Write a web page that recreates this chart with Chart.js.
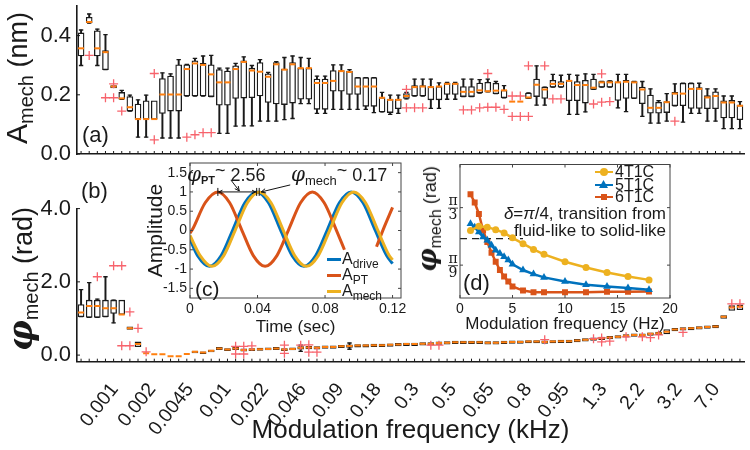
<!DOCTYPE html>
<html>
<head>
<meta charset="utf-8">
<script src="https://cdn.jsdelivr.net/npm/chart.js@4.4.1/dist/chart.umd.min.js"></script>
<style>
  body { margin: 0; background: #fff; }
  #fig { position: relative; width: 750px; height: 450px; overflow: hidden; background: #fff;
         font-family: "Liberation Sans", Arial, sans-serif; color: #1a1a1a; }
  #fig canvas { position: absolute; }
  .t { position: absolute; white-space: nowrap; line-height: 1; }
  .v { transform: translate(-50%, -50%) rotate(-90deg); }
  .phi { font-family: "DejaVu Serif", serif; font-style: italic; }
  sub { vertical-align: baseline; position: relative; top: 0.3em; }
  .sw { position: absolute; height: 3px; }
  .mk { position: absolute; }
</style>
</head>
<body>
<div id="fig">
  <canvas id="ampChart" width="750" height="160" style="left:0;top:0"></canvas>
  <canvas id="phiChart" width="750" height="290" style="left:0;top:160px"></canvas>
  <canvas id="waveChart" width="270" height="180" style="left:140px;top:160px"></canvas>
  <canvas id="transChart" width="270" height="180" style="left:410px;top:160px"></canvas>

  <!-- axis titles with subscripts -->
  <div class="t v" style="left:17px;top:78px;font-size:30px">A<sub style="font-size:20px">mech</sub><span style="font-size:27px"> (nm)</span></div>
  <div class="t v" style="left:20px;top:279px;font-size:27px"><span class="phi" style="font-weight:bold;font-size:34px">φ</span><sub style="font-size:20px">mech</sub> (rad)</div>
  <div class="t v" style="left:427px;top:219px;font-size:18px"><span class="phi" style="font-weight:bold;font-size:26px">φ</span><sub style="font-size:16px">mech</sub> (rad)</div>

  <!-- panel letters -->
  <div class="t" style="left:82px;top:124px;font-size:22px">(a)</div>
  <div class="t" style="left:81px;top:180px;font-size:22px">(b)</div>
  <div class="t" style="left:195px;top:278px;font-size:21px">(c)</div>
  <div class="t" style="left:463px;top:272px;font-size:22px">(d)</div>

  <!-- inset (c) phase notes -->
  <div class="t" style="left:187px;top:164px;font-size:18px"><span class="phi" style="font-size:20px">φ</span><sub style="font-size:11px;font-weight:bold">PT</sub><span style="position:relative;top:-5px">~</span> 2.56</div>
  <div class="t" style="left:291px;top:164px;font-size:18px"><span class="phi" style="font-size:20px">φ</span><sub style="font-size:13px">mech</sub><span style="position:relative;top:-5px">~</span> 0.17</div>

  <!-- inset (c) legend -->
  <div class="sw" style="left:327px;top:258px;width:14px;background:#0072BD"></div>
  <div class="t" style="left:342px;top:251px;font-size:16px">A<sub style="font-size:12px">drive</sub></div>
  <div class="sw" style="left:327px;top:274px;width:14px;background:#D95319"></div>
  <div class="t" style="left:342px;top:267px;font-size:16px">A<sub style="font-size:12px">PT</sub></div>
  <div class="sw" style="left:327px;top:290px;width:14px;background:#EDB120"></div>
  <div class="t" style="left:342px;top:283px;font-size:16px">A<sub style="font-size:12px">mech</sub></div>

  <!-- inset (d) legend -->
  <div class="sw" style="left:595px;top:171px;width:18px;height:2px;background:#EDB120"></div>
  <div class="mk" style="left:600px;top:168px;width:8px;height:8px;border-radius:50%;background:#EDB120"></div>
  <div class="t" style="left:615px;top:164px;font-size:16px">4T1C</div>
  <div class="sw" style="left:595px;top:184px;width:18px;height:2px;background:#0072BD"></div>
  <div class="mk" style="left:599px;top:180px;width:9px;height:8px;background:#0072BD;clip-path:polygon(50% 0,100% 100%,0 100%)"></div>
  <div class="t" style="left:615px;top:177px;font-size:16px">5T1C</div>
  <div class="sw" style="left:595px;top:196px;width:18px;height:2px;background:#D95319"></div>
  <div class="mk" style="left:601px;top:194px;width:6px;height:6px;background:#D95319"></div>
  <div class="t" style="left:615px;top:189px;font-size:16px">6T1C</div>
  <div class="t" style="right:84px;top:205px;font-size:17px;line-height:17px;text-align:right"><i>δ</i>=<i>π</i>/4, transition from<br>fluid-like to solid-like</div>
</div>

<script>
const _ = null;

// shared x categories: 82 modulation frequencies, labelled every fifth box
const tickLabels = ['0.001', '0.002', '0.0045', '0.01', '0.022', '0.046', '0.09', '0.18', '0.3',
                    '0.5', '0.65', '0.8', '0.95', '1.3', '2.2', '3.2', '7.0'];
const categories = Array.from({ length: 82 }, (_v, i) => 'f' + (i + 1));

// (a) A_mech box plots (nm)
const ampTicks = [0, 0.2, 0.4];
const ampWhiskLo = [0.299,0.442,0.299,0.285,_,0.185,0.145,0.057,0.057,_,
  0.054,0.054,0.054,0.196,0.196,0.196,0.194,0.070,0.070,0.094,
  0.095,0.095,0.111,0.111,0.111,0.116,0.120,0.170,0.170,0.137,
  0.137,0.151,0.151,0.151,0.151,0.151,0.140,0.142,0.134,0.137,
  0.186,0.196,0.196,0.154,0.154,0.185,0.185,0.194,0.194,0.206,
  0.210,0.204,0.190,_,_,0.188,0.165,0.165,0.226,0.226,
  0.134,0.134,0.142,0.218,0.226,0.226,0.156,0.143,0.188,0.127,
  0.104,0.104,0.111,0.163,0.108,0.137,0.137,0.111,0.111,0.086,
  0.086,0.086];
const ampQ1 = [0.331,0.444,0.331,0.285,0.223,0.185,0.145,0.118,0.118,0.118,
  0.137,0.145,0.145,0.196,0.196,0.196,0.194,0.165,0.165,0.188,
  0.189,0.190,0.196,0.174,0.169,0.167,0.172,0.185,0.185,0.151,
  0.151,0.212,0.212,0.201,0.201,0.161,0.161,0.142,0.140,0.153,
  0.188,0.196,0.196,0.183,0.183,0.201,0.201,0.194,0.194,0.206,
  0.210,0.204,0.190,_,_,0.188,0.194,0.188,0.226,0.226,
  0.180,0.180,0.172,0.218,0.226,0.226,0.181,0.188,0.188,0.170,
  0.138,0.138,0.140,0.163,0.163,0.154,0.154,0.153,0.153,0.122,
  0.122,0.116];
const ampMed = [0.357,0.446,0.357,0.344,0.228,0.188,0.158,0.118,0.118,0.118,
  0.201,0.201,0.201,0.287,0.306,0.301,0.269,0.242,0.242,0.287,
  0.311,0.282,0.278,0.261,0.303,0.285,0.303,0.290,0.290,0.240,
  0.240,0.247,0.280,0.277,0.228,0.228,0.228,0.190,0.183,0.183,
  0.196,0.226,0.228,0.226,0.228,0.237,0.237,0.210,0.210,0.215,
  0.212,0.214,0.215,0.177,0.177,0.191,0.234,0.218,0.237,0.237,
  0.247,0.233,0.233,0.224,0.242,0.242,0.242,0.244,0.242,0.218,
  0.156,0.156,0.175,0.204,0.204,0.220,0.220,0.191,0.196,0.174,
  0.174,0.163];
const ampQ3 = [0.409,0.462,0.416,0.349,0.231,0.208,0.194,0.169,0.180,0.180,
  0.255,0.263,0.301,0.301,0.315,0.306,0.301,0.285,0.280,0.298,
  0.315,0.290,0.309,0.271,0.309,0.287,0.309,0.290,0.290,0.253,
  0.253,0.282,0.282,0.280,0.258,0.258,0.258,0.191,0.185,0.185,
  0.204,0.231,0.231,0.228,0.228,0.239,0.239,0.228,0.228,0.240,
  0.242,0.239,0.215,_,_,0.206,0.253,0.226,0.249,0.245,
  0.249,0.245,0.249,0.253,0.245,0.247,0.244,0.249,0.245,0.226,
  0.199,0.175,0.177,0.208,0.239,0.239,0.224,0.197,0.210,0.180,
  0.181,0.165];
const ampWhiskHi = [0.419,0.473,0.422,0.403,_,0.215,0.199,0.183,0.199,_,
  0.274,0.271,0.319,0.303,0.323,0.331,0.333,0.290,0.290,0.306,
  0.328,0.299,0.319,0.276,0.312,0.326,0.331,0.326,0.323,0.263,
  0.263,0.301,0.301,0.285,0.258,0.258,0.258,0.208,0.199,0.199,
  0.208,0.253,0.253,0.253,0.240,0.242,0.242,0.253,0.253,0.251,
  0.253,0.245,0.231,_,_,0.206,0.298,0.226,0.269,0.266,
  0.269,0.266,0.271,0.269,0.245,0.247,0.269,0.269,0.245,0.245,
  0.220,0.180,0.204,0.237,0.239,0.239,0.239,0.220,0.220,0.196,
  0.196,0.177];
const ampOutA = [_,0.333,_,0.19,0.237,0.145,_,_,_,0.272,
  _,_,_,0.057,0.065,0.072,0.072,_,_,_,
  _,_,_,_,_,_,_,_,_,_,
  _,_,_,_,_,_,_,_,_,_,
  0.218,0.156,0.156,_,_,_,_,0.149,0.149,0.156,
  0.272,0.158,0.151,0.196,0.196,0.298,_,0.298,0.186,0.186,
  _,_,_,0.169,0.271,0.177,_,_,_,_,
  _,_,_,0.111,_,_,_,_,_,_,
  _,_];
const ampOutB = [_,_,_,_,0.19,_,_,_,_,0.048,
  _,_,_,_,_,_,_,_,_,_,
  _,_,_,_,_,_,_,_,_,_,
  _,_,_,_,_,_,_,_,_,_,
  0.156,_,_,_,_,_,_,_,_,_,
  0.158,_,_,0.127,0.127,0.127,_,_,_,_,
  _,_,_,_,0.175,_,_,_,_,_,
  _,_,_,_,_,_,_,_,_,_,
  _,_];

// (b) phi_mech box plots (rad)
const phiTicks = [0, 2, 4];
const phiWhiskLo = [1.05,1.03,1.03,1.05,0.88,_,_,_,_,_,
  _,_,_,_,_,_,_,_,_,_,
  _,_,_,_,_,_,_,0.10,_,_,
  _,_,_,0.16,_,_,_,_,_,_,
  _,_,_,_,_,_,_,_,_,_,
  _,_,_,_,_,_,_,_,_,_,
  _,_,_,_,_,_,_,_,_,_,
  _,_,_,_,_,_,_,_,_,_,
  _,_];
const phiQ1 = [1.05,1.03,1.03,1.05,1.14,1.11,0.70,0.23,_,_,
  _,_,_,_,0.06,0.04,0.09,0.15,0.12,0.15,
  0.11,0.12,0.13,0.14,0.15,0.12,0.14,0.16,0.17,0.16,
  0.18,0.18,0.20,0.21,0.22,0.22,0.23,0.23,0.24,0.25,
  0.26,0.26,0.27,0.27,0.29,0.30,0.31,0.31,0.31,0.31,
  0.30,0.30,0.31,0.32,0.32,0.33,0.33,0.32,0.33,0.34,
  0.34,0.36,0.38,0.40,0.42,0.44,0.46,0.49,0.51,0.51,
  0.54,0.56,0.58,0.66,0.68,0.69,0.71,0.73,0.74,1.00,
  1.22,1.24];
const phiMed = [1.16,1.34,1.34,1.28,1.28,1.11,0.73,0.30,0.05,0.02,
  0.02,-0.03,-0.03,0.03,0.09,0.07,0.12,0.18,0.15,0.18,
  0.14,0.15,0.16,0.17,0.18,0.15,0.17,0.20,0.21,0.20,
  0.22,0.22,0.24,0.25,0.26,0.26,0.27,0.27,0.28,0.29,
  0.30,0.30,0.31,0.31,0.33,0.34,0.35,0.35,0.35,0.35,
  0.34,0.34,0.35,0.36,0.36,0.37,0.37,0.36,0.37,0.38,
  0.38,0.40,0.42,0.44,0.46,0.48,0.50,0.53,0.55,0.55,
  0.58,0.60,0.64,0.70,0.72,0.73,0.75,0.77,0.78,1.05,
  1.30,1.32];
const phiQ3 = [1.38,1.50,1.50,1.50,1.50,1.50,0.77,0.36,_,_,
  _,_,_,_,0.11,0.09,0.14,0.21,0.18,0.21,
  0.17,0.18,0.19,0.20,0.21,0.18,0.20,0.23,0.24,0.23,
  0.25,0.25,0.27,0.28,0.29,0.29,0.30,0.30,0.31,0.32,
  0.33,0.33,0.34,0.34,0.36,0.37,0.38,0.38,0.38,0.38,
  0.37,0.37,0.38,0.39,0.39,0.40,0.40,0.39,0.40,0.41,
  0.41,0.43,0.45,0.47,0.49,0.51,0.53,0.56,0.58,0.58,
  0.61,0.63,0.70,0.73,0.75,0.76,0.78,0.80,0.81,1.08,
  1.35,1.37];
const phiWhiskHi = [1.79,1.98,1.53,2.14,1.50,_,_,_,_,_,
  _,_,_,_,_,_,_,_,_,_,
  _,_,_,_,_,_,_,0.27,_,_,
  _,_,_,0.33,_,_,_,_,_,_,
  _,_,_,_,_,_,_,_,_,_,
  _,_,_,_,_,_,_,_,_,_,
  _,_,_,_,_,_,_,_,_,_,
  _,_,_,_,_,_,_,_,_,_,
  _,_];
const phiOutA = [_,_,2.14,_,2.44,2.44,1.18,0.73,0.09,_,
  _,_,_,_,_,_,_,_,_,0.24,
  0.24,0.25,_,_,_,0.27,_,0.27,0.28,0.08,
  _,_,_,_,_,_,_,_,_,_,
  _,_,_,0.27,0.27,_,_,_,_,_,
  _,_,_,_,_,_,_,0.42,_,_,
  _,_,_,0.45,0.47,0.38,_,0.50,_,0.50,
  0.48,0.55,_,_,0.62,_,_,_,_,_,
  1.40,1.40];
const phiOutB = [_,_,_,_,_,0.255,0.255,_,_,_,
  _,_,_,_,_,_,_,_,_,0.03,
  0.03,_,_,_,_,0.05,_,_,0.08,_,
  _,_,_,_,_,_,_,_,_,_,
  _,_,_,_,_,_,_,_,_,_,
  _,_,_,_,_,_,_,_,_,_,
  _,_,_,_,0.36,_,_,_,_,_,
  _,_,_,_,_,_,_,_,_,_,
  _,_];

// (c) normalised drive / photothermal / mechanical signals
const waveTimeTicks = [0, 0.04, 0.08, 0.12];
const waveAmpTicks = [-1.5, -1, -0.5, 0, 0.5, 1, 1.5];
const driveT = [0, 0.0045, 0.0115, 0.0185, 0.0255, 0.0325, 0.0395, 0.0465, 0.0535, 0.0605,
                0.0675, 0.0745, 0.0815, 0.0885, 0.0955, 0.1025, 0.1095, 0.1165, 0.12];
const driveV = [-0.23, -0.65, -0.93, -0.65, 0.03, 0.72, 1.0, 0.72, 0.03, -0.65,
                -0.93, -0.65, 0.03, 0.72, 1.0, 0.72, 0.03, -0.65, -0.86];
const ptT = [0, 0.0015, 0.009, 0.0165, 0.0235, 0.0305, 0.0375, 0.0445, 0.0515, 0.0585,
             0.0655, 0.0725, 0.0795, 0.0865, 0.0915, 0.1005, 0.1105, 0.1145, 0.12];
const ptV = [-0.07, 0.03, 0.72, 1.0, 0.72, 0.03, -0.65, -0.93, -0.65, 0.03,
             0.72, 1.0, 0.72, 0.03, -0.5, _, -0.42, 0.03, 0.6];
const mechT = [0, 0.006, 0.013, 0.02, 0.027, 0.034, 0.041, 0.048, 0.055, 0.062,
               0.069, 0.076, 0.083, 0.09, 0.097, 0.104, 0.111, 0.118, 0.12];
const mechV = [-0.13, -0.65, -0.93, -0.65, 0.03, 0.72, 1.0, 0.72, 0.03, -0.65,
               -0.93, -0.65, 0.03, 0.72, 1.0, 0.72, 0.03, -0.65, -0.76];

// (d) phase vs modulation frequency (Hz)
const freqTicks = [0, 5, 10, 15, 20];
const phiTickDenoms = [9, 3];
const freq4T1C = [1, 1.8, 2.6, 3.4, 4.2, 5, 6, 7, 8, 10, 12, 14, 16, 18];
const phi4T1C = [0.77, 0.82, 0.81, 0.78, 0.74, 0.68, 0.61, 0.54, 0.48, 0.39, 0.32, 0.26, 0.21, 0.17];
const freqDense = [1, 1.4, 1.8, 2.2, 2.6, 3, 3.4, 3.8, 4.2, 4.6, 5, 6, 7, 8, 10, 12, 14, 16, 18];
const phi5T1C = [0.85, 0.81, 0.75, 0.69, 0.65, 0.59, 0.53, 0.49, 0.45, 0.41, 0.36, 0.29, 0.24, 0.20, 0.15, 0.11, 0.09, 0.07, 0.05];
const phi6T1C = [1.21, 1.11, 0.97, 0.77, 0.63, 0.50, 0.39, 0.29, 0.21, 0.15, 0.09, 0.04, 0.02, 0.02, 0.02, 0.02, 0.025, 0.025, 0.03];
const transitionF = [0, 6];
const transitionPhi = 0.67;

const FONT = '"Liberation Sans", Arial, sans-serif';
const INK = '#1a1a1a';
const ORANGE = '#ff7f0e';
const PLUS = '#f7636c';
const BLUE = '#0072BD', RED = '#D95319', YEL = '#EDB120';

// MATLAB-style ticks pointing into the axes
const inwardTicks = {
  id: 'inwardTicks',
  afterDatasetsDraw(chart, args, opts) {
    const { ctx, chartArea: a } = chart;
    ctx.save();
    ctx.strokeStyle = opts.color || '#333';
    ctx.lineWidth = opts.width || 1;
    ctx.beginPath();
    (opts.x || []).forEach(id => {
      const s = chart.scales[id];
      s.ticks.forEach((t, i) => {
        const px = s.getPixelForTick(i);
        ctx.moveTo(px, a.bottom); ctx.lineTo(px, a.bottom - opts.len);
        if (opts.box) { ctx.moveTo(px, a.top); ctx.lineTo(px, a.top + opts.len); }
      });
    });
    (opts.y || []).forEach(id => {
      const s = chart.scales[id];
      s.ticks.forEach((t, i) => {
        const py = s.getPixelForTick(i);
        ctx.moveTo(a.left, py); ctx.lineTo(a.left + opts.len, py);
        if (opts.box) { ctx.moveTo(a.right, py); ctx.lineTo(a.right - opts.len, py); }
      });
    });
    ctx.stroke();
    ctx.restore();
  }
};

// white plot box with full frame for the insets
const insetFrame = {
  id: 'insetFrame',
  beforeDraw(chart) {
    const { ctx, chartArea: a } = chart;
    ctx.save();
    ctx.fillStyle = '#fff';
    ctx.fillRect(a.left, a.top, a.width, a.height);
    ctx.restore();
  },
  afterDraw(chart) {
    const { ctx, chartArea: a } = chart;
    ctx.save();
    ctx.strokeStyle = '#444';
    ctx.lineWidth = 1;
    ctx.strokeRect(a.left, a.top, a.width, a.height);
    ctx.restore();
  }
};

function marks(data, style, radius, color, width, order) {
  return { type: 'line', data, showLine: false, pointStyle: style, pointRadius: radius,
           pointBorderColor: color, pointBackgroundColor: color, pointBorderWidth: width,
           borderColor: color, order, xAxisID: 'x', yAxisID: 'y' };
}

function boxSets(lo, q1, med, q3, hi, outA, outB) {
  return [
    marks(outA, 'cross', 4.5, PLUS, 1.3, 0),
    marks(outB, 'cross', 4.5, PLUS, 1.3, 0),
    marks(med, 'line', 3, ORANGE, 2, 1),
    marks(lo, 'line', 2.2, INK, 1.3, 2),
    marks(hi, 'line', 2.2, INK, 1.3, 2),
    { type: 'bar', data: q1.map((v, i) => v === null ? null : [v, q3[i]]),
      backgroundColor: '#fff', borderColor: INK, borderWidth: 1.3, borderSkipped: false,
      barThickness: 6, grouped: false, order: 3, xAxisID: 'x', yAxisID: 'y' },
    { type: 'bar', data: lo.map((v, i) => v === null ? null : [v, hi[i]]),
      backgroundColor: INK, barThickness: 1.3, grouped: false, order: 4, xAxisID: 'x', yAxisID: 'y' }
  ];
}

function categoryAxis(height) {
  return {
    type: 'category', offset: true, weight: 0,
    grid: { display: true, drawOnChartArea: false, drawTicks: false, offset: false },
    border: { color: INK, width: 1.6 },
    ticks: { autoSkip: false, maxRotation: 0, callback: () => '' },
    afterFit: s => { s.height = height; s.paddingLeft = 0; s.paddingRight = 0; }
  };
}

function valueAxis(min, max, ticks, digits) {
  return {
    min, max,
    afterBuildTicks: a => { a.ticks = ticks.map(v => ({ value: v })); },
    ticks: { callback: v => v.toFixed(digits), font: { size: 22, family: FONT }, color: INK, padding: 6 },
    grid: { drawOnChartArea: false, drawTicks: false },
    border: { color: INK, width: 1.6 },
    afterFit: s => { s.width = 77; s.paddingTop = 0; s.paddingBottom = 0; }
  };
}

const quiet = { legend: { display: false }, tooltip: { enabled: false } };

new Chart(document.getElementById('ampChart'), {
  type: 'bar',
  data: { labels: categories,
          datasets: boxSets(ampWhiskLo, ampQ1, ampMed, ampQ3, ampWhiskHi, ampOutA, ampOutB) },
  options: {
    responsive: false, animation: false, events: [],
    layout: { padding: { left: 0, right: 4, top: 0, bottom: 0 } },
    plugins: { ...quiet, inwardTicks: { x: ['x'], y: ['y'], len: 3, color: INK } },
    scales: { x: categoryAxis(6), y: valueAxis(0, 0.5, ampTicks, 1) }
  },
  plugins: [inwardTicks]
});

new Chart(document.getElementById('phiChart'), {
  type: 'bar',
  data: { labels: categories,
          datasets: boxSets(phiWhiskLo, phiQ1, phiMed, phiQ3, phiWhiskHi, phiOutA, phiOutB) },
  options: {
    responsive: false, animation: false, events: [],
    layout: { padding: { left: 0, right: 4, top: 48.6, bottom: 0 } },
    plugins: { ...quiet, inwardTicks: { x: ['x'], y: ['y'], len: 3, color: INK } },
    scales: {
      x: categoryAxis(0),
      // frequency labels sit on their own axis so they line up with the original tick spacing
      xl: {
        type: 'linear', position: 'bottom', weight: 1, min: -0.48, max: 16.22,
        afterBuildTicks: a => { a.ticks = tickLabels.map((l, i) => ({ value: i })); },
        ticks: { autoSkip: false, minRotation: 52, maxRotation: 52, padding: 9,
                 font: { size: 19.5, family: FONT }, color: INK, callback: v => tickLabels[v] },
        grid: { display: false }, border: { display: false },
        title: { display: true, text: 'Modulation frequency (kHz)', color: INK,
                 font: { size: 26, family: FONT }, padding: { top: 0, bottom: 4 } },
        afterFit: s => { s.height = 88.3; s.paddingLeft = 0; s.paddingRight = 0; }
      },
      y: valueAxis(-0.18, 4, phiTicks, 1)
    }
  },
  plugins: [inwardTicks]
});

// double arrow between the peaks plus the two pointers
function arrowHead(ctx, x1, y1, x2, y2, size) {
  const ang = Math.atan2(y2 - y1, x2 - x1);
  ctx.beginPath();
  ctx.moveTo(x2 - size * Math.cos(ang - 0.45), y2 - size * Math.sin(ang - 0.45));
  ctx.lineTo(x2, y2);
  ctx.lineTo(x2 - size * Math.cos(ang + 0.45), y2 - size * Math.sin(ang + 0.45));
  ctx.stroke();
}
function arrow(ctx, x1, y1, x2, y2) {
  ctx.beginPath(); ctx.moveTo(x1, y1); ctx.lineTo(x2, y2); ctx.stroke();
  arrowHead(ctx, x1, y1, x2, y2, 5);
}
const peakTime = (t, v) => t[v.indexOf(Math.max(...v.filter(n => n !== null)))];

const phaseMarks = {
  id: 'phaseMarks',
  afterDatasetsDraw(chart) {
    const { ctx, scales: { x, y } } = chart;
    const xr = x.getPixelForValue(peakTime(ptT, ptV));
    const xb = x.getPixelForValue(peakTime(driveT, driveV));
    const xm = x.getPixelForValue(peakTime(mechT, mechV));
    const yp = y.getPixelForValue(1);
    ctx.save();
    ctx.strokeStyle = '#111';
    ctx.lineWidth = 1;
    ctx.beginPath();
    ctx.moveTo(xr, yp); ctx.lineTo(xb, yp);
    [xr, xb, xm].forEach(px => { ctx.moveTo(px, yp - 4); ctx.lineTo(px, yp + 4); });
    ctx.stroke();
    arrowHead(ctx, xb, yp, xr + 1, yp, 4);
    arrowHead(ctx, xr, yp, xb - 1, yp, 4);
    arrow(ctx, xr + 13, yp - 12, (xr + xb) / 2 + 2, yp - 1);
    arrow(ctx, xm + 31, yp - 7, xm + 2, yp);
    ctx.restore();
  }
};

function insetAxis(min, max, ticks, fmt, title, titlePad, size) {
  return {
    type: 'linear', min, max,
    afterBuildTicks: a => { a.ticks = ticks.map(v => ({ value: v })); },
    ticks: { callback: fmt, font: { size: 14, family: FONT }, color: INK, padding: 3 },
    grid: { display: false, drawTicks: false },
    border: { display: false },
    title: { display: !!title, text: title, color: INK, font: { size, family: FONT }, padding: titlePad }
  };
}

const pts = (t, v) => t.map((x, i) => ({ x, y: v[i] }));

new Chart(document.getElementById('waveChart'), {
  type: 'line',
  data: { datasets: [
    { label: 'A_mech', data: pts(mechT, mechV), borderColor: YEL },
    { label: 'A_PT', data: pts(ptT, ptV), borderColor: RED },
    { label: 'A_drive', data: pts(driveT, driveV), borderColor: BLUE }
  ] },
  options: {
    responsive: false, animation: false, events: [],
    layout: { padding: { left: 0, right: 9, top: 3, bottom: 0 } },
    elements: { line: { borderWidth: 3, cubicInterpolationMode: 'monotone' }, point: { radius: 0 } },
    plugins: { ...quiet, inwardTicks: { x: ['x'], y: ['y'], len: 3, box: true, color: '#444' } },
    scales: {
      x: { ...insetAxis(0, 0.125, waveTimeTicks, v => v === 0 ? '0' : v.toFixed(2), 'Time (sec)',
                        { top: 0, bottom: 2.8 }, 17),
           afterFit: s => { s.height = 42; s.paddingLeft = 0; s.paddingRight = 0; } },
      y: { ...insetAxis(-1.75, 1.75, waveAmpTicks, v => String(v), 'Amplitude', { top: 4, bottom: 0 }, 21),
           afterFit: s => { s.width = 50; s.paddingTop = 0; s.paddingBottom = 0; } }
    }
  },
  plugins: [insetFrame, inwardTicks, phaseMarks]
});

// pi fractions for the inset (d) phase axis
const fracTicks = {
  id: 'fracTicks',
  afterDraw(chart) {
    const { ctx, chartArea: a, scales: { y } } = chart;
    ctx.save();
    ctx.fillStyle = INK; ctx.strokeStyle = INK; ctx.lineWidth = 0.8;
    ctx.font = '14px "DejaVu Serif", serif';
    ctx.textAlign = 'center';
    y.ticks.forEach((t, i) => {
      const py = y.getPixelForValue(t.value), cx = a.left - 7;
      ctx.textBaseline = 'bottom'; ctx.fillText('π', cx, py + 1);
      ctx.textBaseline = 'top'; ctx.fillText(String(phiTickDenoms[i]), cx, py + 1);
      ctx.beginPath(); ctx.moveTo(cx - 5, py + 0.5); ctx.lineTo(cx + 5, py + 0.5); ctx.stroke();
    });
    ctx.restore();
  }
};

new Chart(document.getElementById('transChart'), {
  type: 'line',
  data: { datasets: [
    { label: '4T1C', data: pts(freq4T1C, phi4T1C), borderColor: YEL, backgroundColor: YEL,
      pointStyle: 'circle', pointRadius: 3.5 },
    { label: '5T1C', data: pts(freqDense, phi5T1C), borderColor: BLUE, backgroundColor: BLUE,
      pointStyle: 'triangle', pointRadius: 4.5 },
    { label: '6T1C', data: pts(freqDense, phi6T1C), borderColor: RED, backgroundColor: RED,
      pointStyle: 'rect', pointRadius: 4.2 },
    { label: 'transition', data: transitionF.map(f => ({ x: f, y: transitionPhi })), borderColor: '#222',
      borderWidth: 1.2, borderDash: [7, 5], pointRadius: 0 }
  ] },
  options: {
    responsive: false, animation: false, events: [],
    layout: { padding: { left: 0, right: 10, top: 3, bottom: 0 } },
    elements: { line: { borderWidth: 2.5, tension: 0 }, point: { borderWidth: 0 } },
    plugins: { ...quiet, inwardTicks: { x: ['x'], y: ['y'], len: 3, box: true, color: '#444' } },
    scales: {
      x: { ...insetAxis(0, 20, freqTicks, v => String(v), 'Modulation frequency (Hz)',
                        { top: 0, bottom: 5.8 }, 17),
           afterFit: s => { s.height = 42; s.paddingLeft = 0; s.paddingRight = 0; } },
      y: { ...insetAxis(-0.05, Math.PI / 2, phiTickDenoms.map(d => Math.PI / d), () => '', '', 0, 14),
           afterFit: s => { s.width = 50; s.paddingTop = 0; s.paddingBottom = 0; } }
    }
  },
  plugins: [insetFrame, inwardTicks, fracTicks]
});
</script>
</body>
</html>
